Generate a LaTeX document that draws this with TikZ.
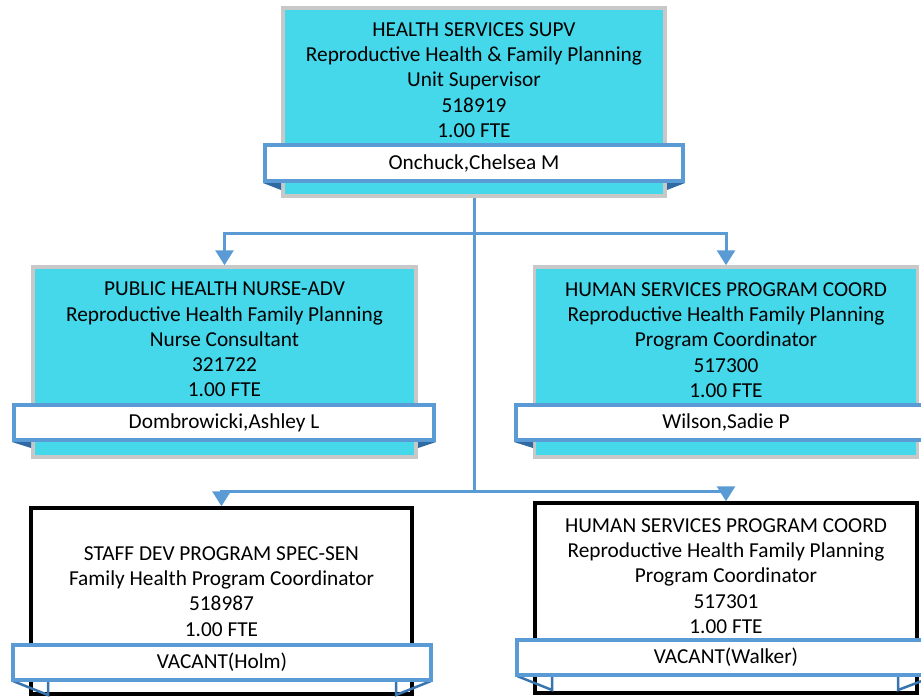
\documentclass[tikz,border=0pt]{standalone}
\usepackage{fontspec}
\setmainfont{Carlito}
\usetikzlibrary{arrows.meta}
\definecolor{cyanfill}{HTML}{45D7EA}
\definecolor{graybd}{HTML}{C8C8C8}
\definecolor{bluebd}{HTML}{5B9BD5}
\definecolor{folddk}{HTML}{2F6AA3}
\tikzset{
  cbox/.style={draw=graybd, line width=3.5pt, fill=cyanfill, inner sep=0pt, rectangle},
  vbox/.style={draw=black, line width=3.5pt, fill=white, inner sep=0pt, rectangle},
  namebar/.style={draw=bluebd, line width=4pt, fill=white, inner sep=0pt, rectangle,
    font=\fontsize{21.3}{25}\selectfont},
  txt/.style={align=center, inner sep=0pt, font=\fontsize{21.3}{25.3}\selectfont},
  conn/.style={draw=bluebd, line width=3pt},
  arr/.style={conn, -{Triangle[width=18pt,length=15pt]}, shorten >=0pt},
  fold/.style={fill=folddk, draw=none},
  foldo/.style={draw=folddk!80!bluebd, line width=2.5pt, line join=miter},
}
\begin{document}
\begin{tikzpicture}[x=1pt,y=-1pt]
\useasboundingbox (0,0) rectangle (921,698);
% top box
\node[cbox, minimum width=382pt, minimum height=188pt] (top) at (474,102) {};
\node[txt] (toptxt) at (474,80) {HEALTH SERVICES SUPV\\Reproductive Health \& Family Planning\\Unit Supervisor\\518919\\1.00 FTE};
\fill[fold] (263,183) -- (281,183) -- (281,190) -- cycle;
\fill[fold] (667,183) -- (685,183) -- (667,190) -- cycle;
\node[namebar, minimum width=418pt, minimum height=36pt] (topname) at (474,163) {Onchuck,Chelsea M};
% connectors
\coordinate (j1) at (474,233);
\coordinate (j2) at (474,491);
% mid boxes
\node[cbox, minimum width=383pt, minimum height=190pt] (pha) at (224.5,362) {};
\node[txt] (phatxt) at (224.5,339.5) {PUBLIC HEALTH NURSE-ADV\\Reproductive Health Family Planning\\Nurse Consultant\\321722\\1.00 FTE};
\fill[fold] (12,442) -- (31,442) -- (31,448) -- cycle;
\fill[fold] (418,442) -- (436,442) -- (418,448) -- cycle;
\node[namebar, minimum width=420pt, minimum height=35pt] (phaname) at (224,422.5) {Dombrowicki,Ashley L};

\node[cbox, minimum width=383pt, minimum height=190pt] (hsc) at (726,362) {};
\node[txt] (hsctxt) at (726,340) {HUMAN SERVICES PROGRAM COORD\\Reproductive Health Family Planning\\Program Coordinator\\517300\\1.00 FTE};
\fill[fold] (514,442) -- (533,442) -- (533,448) -- cycle;
\node[namebar, minimum width=420pt, minimum height=35pt] (hscname) at (726,422.5) {Wilson,Sadie P};

% bottom boxes
\node[vbox, minimum width=381pt, minimum height=186pt] (sdp) at (221.5,601) {};
\node[txt] (sdptxt) at (221.5,591.5) {STAFF DEV PROGRAM SPEC-SEN\\Family Health Program Coordinator\\518987\\1.00 FTE};
\draw[foldo] (13,681) -- (48,695) -- (48,681);
\draw[foldo] (431,681) -- (396,695) -- (396,681);
\node[namebar, minimum width=418pt, minimum height=35pt] (sdpname) at (222,662.5) {VACANT(Holm)};

\node[vbox, minimum width=382pt, minimum height=190pt] (hsc2) at (726,598) {};
\node[txt] (hsc2txt) at (726,576) {HUMAN SERVICES PROGRAM COORD\\Reproductive Health Family Planning\\Program Coordinator\\517301\\1.00 FTE};
\draw[foldo] (517,676) -- (552,690) -- (552,676);
\draw[foldo] (935,676) -- (898,690) -- (898,676);
\node[namebar, minimum width=418pt, minimum height=35pt] (hsc2name) at (726,657.5) {VACANT(Walker)};

% connectors
\draw[conn] (top.south) -- (j2);
\draw[arr] (j1) -| (pha.north);
\draw[arr] (j1) -| (hsc.north);
\draw[arr] (j2) -| (sdp.north);
\draw[arr] (j2) -| (hsc2.north);
\end{tikzpicture}
\end{document}
